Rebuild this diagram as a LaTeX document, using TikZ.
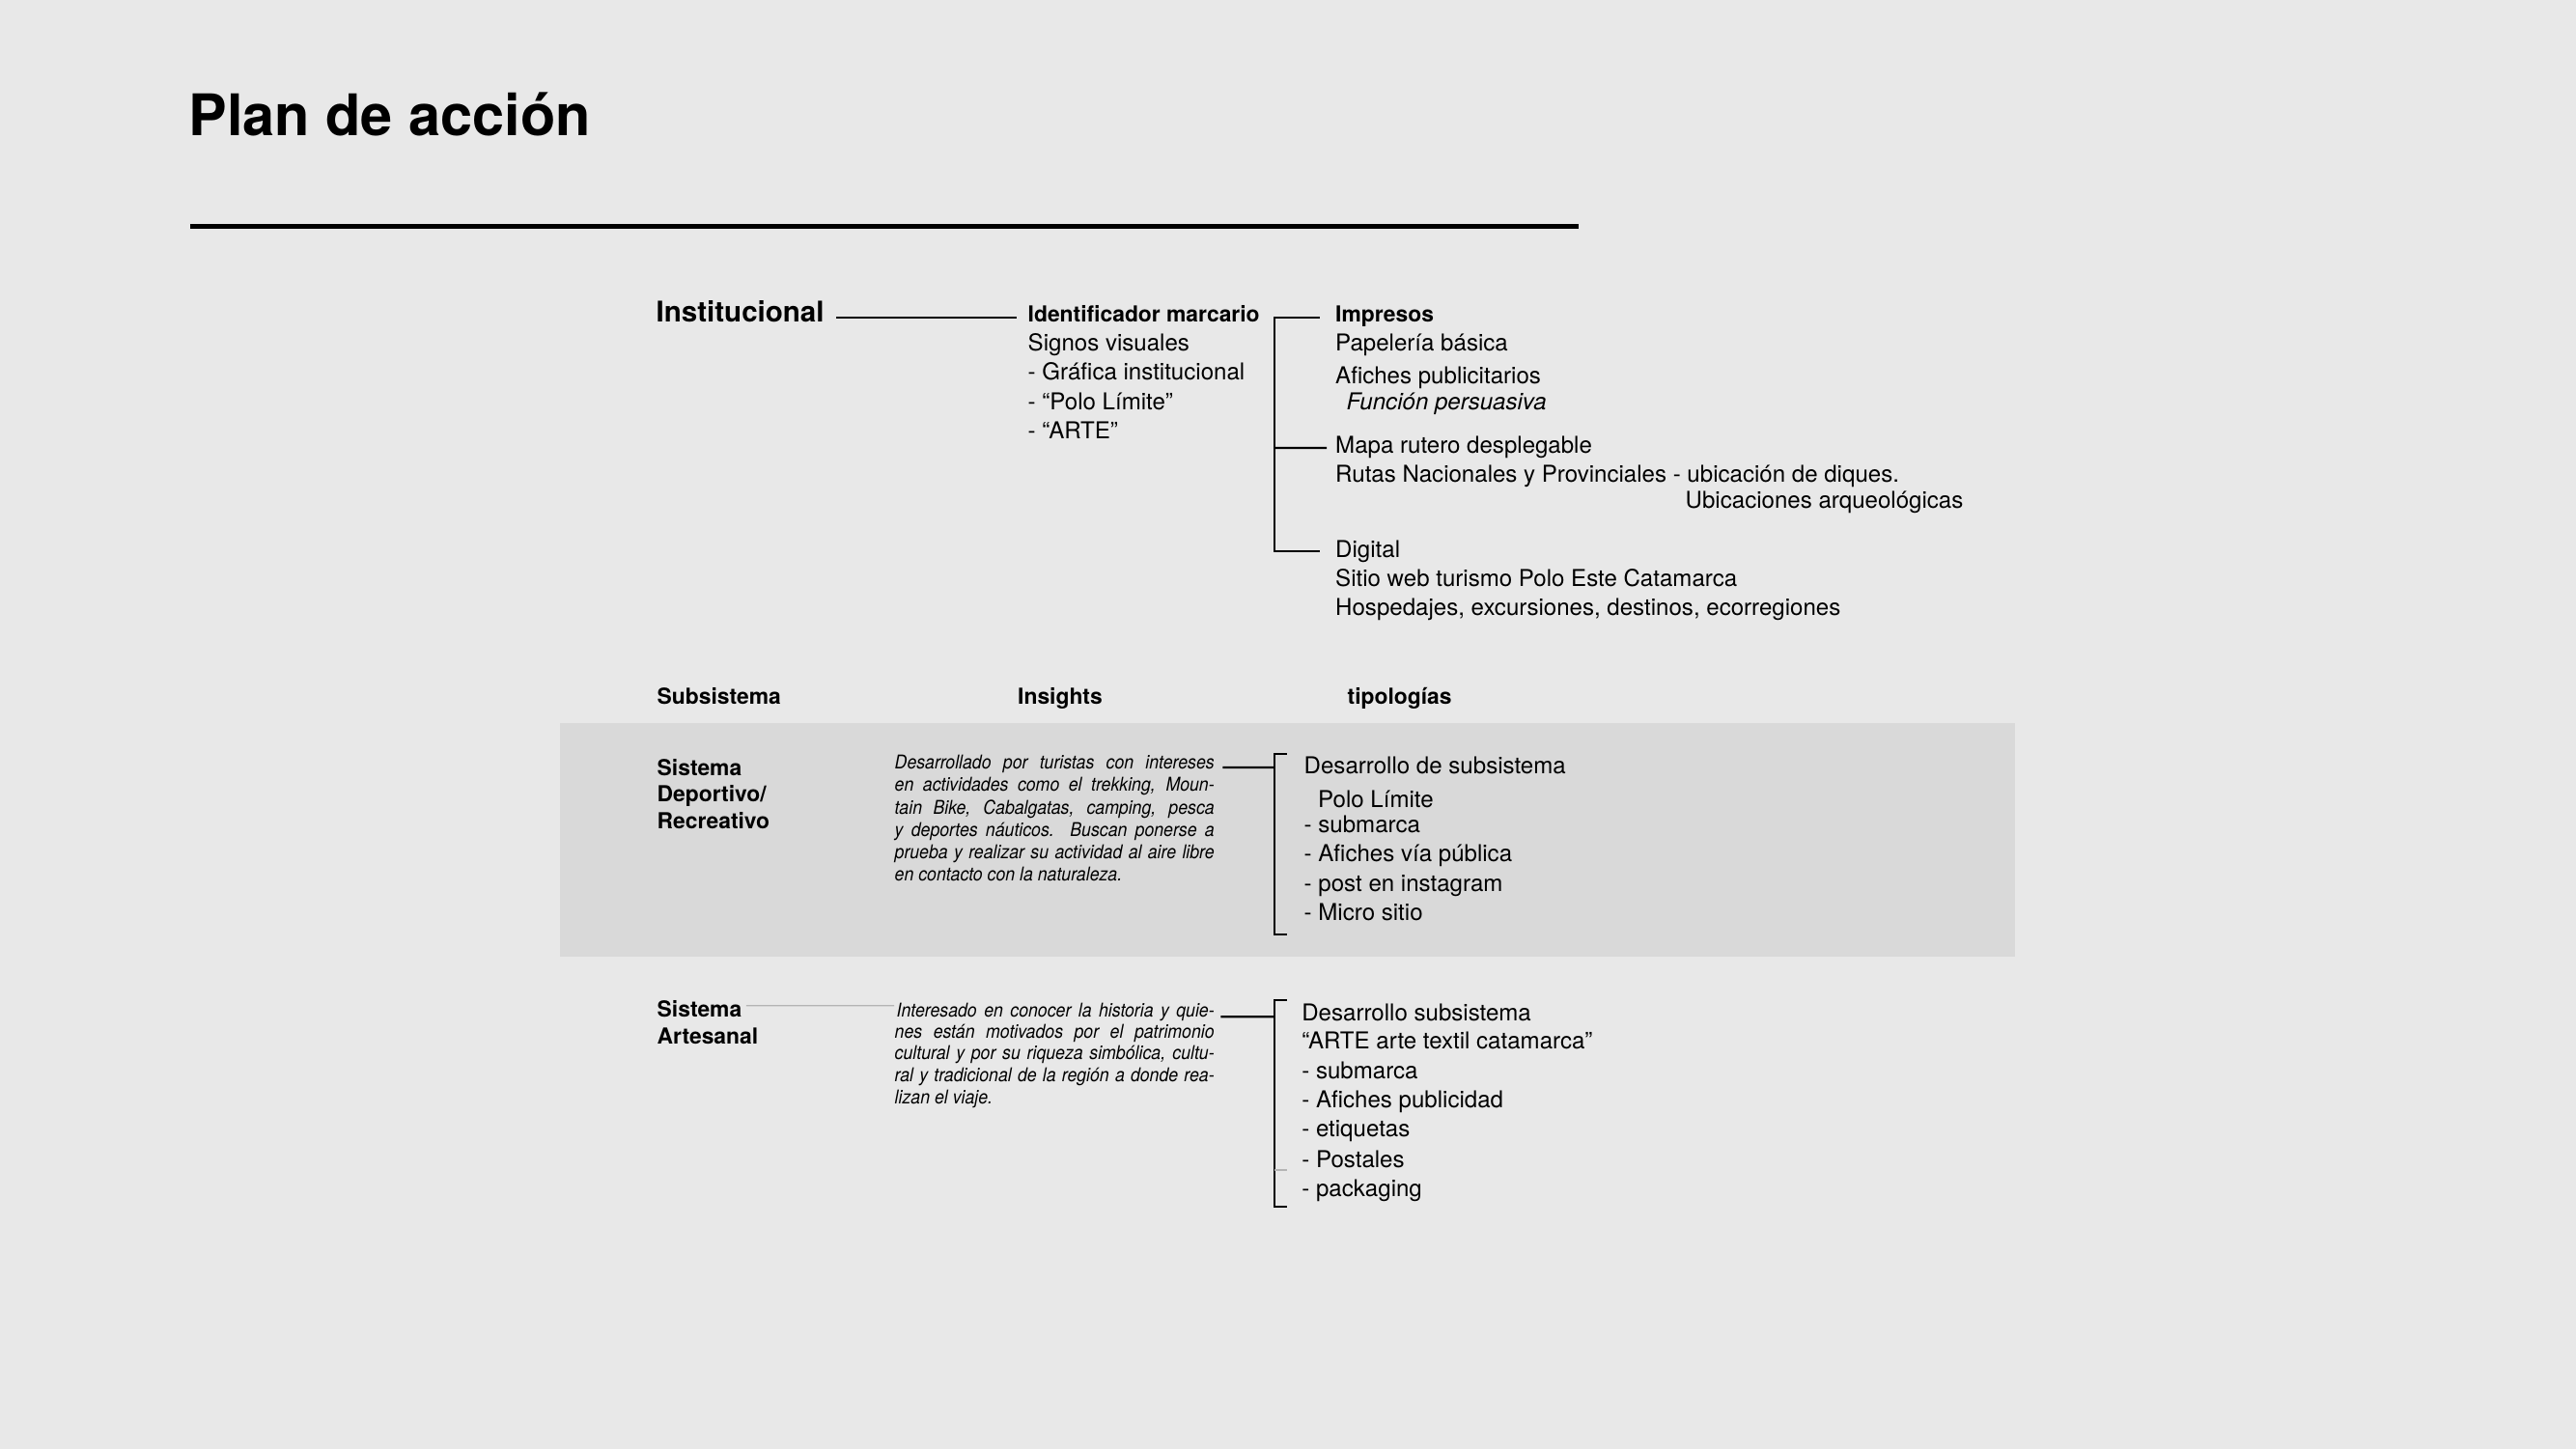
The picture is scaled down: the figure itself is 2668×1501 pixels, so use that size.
\documentclass[tikz,border=0pt]{standalone}
\usepackage{fontspec}
\setmainfont{TeX Gyre Heros}
\newfontfamily\insfont[FakeStretch=0.9]{TeX Gyre Heros}
\usetikzlibrary{positioning}

\definecolor{paper}{HTML}{E8E8E8}
\definecolor{band}{HTML}{D9D9D9}
\definecolor{faint}{HTML}{B4B4B4}

\newcommand\insline[2][3.31cm]{\makebox[#1][s]{#2}}

\tikzset{
  body/.style={anchor=base west, inner sep=0pt, font=\fontsize{6.85}{8}\selectfont},
  head/.style={body, font=\fontsize{6.5}{8}\selectfont\bfseries},
  insight/.style={body, font=\insfont\fontsize{5.6}{6.6}\selectfont\itshape},
  link/.style={line width=.6pt},
  hair/.style={line width=.35pt, draw=faint},
}

\begin{document}
\begin{tikzpicture}[x=.1mm,y=-.1mm]
\fill[paper] (0,0) rectangle (2668,1501);
\useasboundingbox (0,0) rectangle (2668,1501);
\node[body,font=\fontsize{16.9}{20}\selectfont\bfseries] (titulo) at (195,141) {Plan de acción};
\draw[line width=1.35pt] (197,234.5) -- (1635,234.5);

\node[body,font=\fontsize{8.4}{10}\selectfont\bfseries] (inst) at (679,333.5) {Institucional};
\node[head] (idm) at (1064,333.5) {Identificador marcario};
\node[body] (signos) at (1064,364) {Signos visuales};
\node[body] (grafica) at (1064,394) {- Gráfica institucional};
\node[body] (polo) at (1064,424.5) {- “Polo Límite”};
\node[body] (arte) at (1064,454.5) {- “ARTE”};
\draw[link] ([xshift=1.2mm,yshift=.42mm]inst.base east) -- ([xshift=-1.1mm,yshift=.42mm]idm.base west);

\node[head] (imp) at (1382.5,334) {Impresos};
\node[body] (papel) at (1382.5,364) {Papelería básica};
\node[body] (afpub) at (1382.5,398) {Afiches publicitarios};
\node[body,font=\fontsize{6.85}{8}\selectfont\itshape] (persu) at (1394,424.5) {Función persuasiva};
\node[body] (mapa) at (1382.5,469.5) {Mapa rutero desplegable};
\node[body] (rutas) at (1382.5,499.5) {Rutas Nacionales y Provinciales - ubicación de diques.};
\node[body] (arqueo) at (1745,526.5) {Ubicaciones arqueológicas};
\node[body] (digital) at (1382.5,577.2) {Digital};
\node[body] (web) at (1382.5,607.2) {Sitio web turismo Polo Este Catamarca};
\node[body] (hosp) at (1382.5,637.2) {Hospedajes, excursiones, destinos, ecorregiones};
\coordinate (spineA) at (1320,464);
\draw[link] ([xshift=-1.6mm,yshift=.47mm]imp.base west) -| (spineA) |- ([xshift=-1.6mm,yshift=.65mm]digital.base west);
\draw[link] (spineA) -- ([xshift=-.85mm,yshift=.55mm]mapa.base west);

\node[head] (subs) at (680,729.8) {Subsistema};
\node[head] (insights) at (1053.5,729.8) {Insights};
\node[head] (tipos) at (1395,729.8) {tipologías};

\fill[band] (580,749.3) rectangle (2087,990.7);
\node[head] (depA) at (680,803.2) {Sistema};
\node[head] (depB) at (680,830.5) {Deportivo/};
\node[head] (depC) at (680,858.2) {Recreativo};
\node[insight] (insA1) at (926,796.5) {\insline{Desarrollado por turistas con intereses}};
\node[insight] (insA2) at (926,819.8) {\insline{en actividades como el trekking, Moun-}};
\node[insight] (insA3) at (926,843.2) {\insline{tain Bike, Cabalgatas, camping, pesca}};
\node[insight] (insA4) at (926,866.2) {\insline{y deportes náuticos. Buscan ponerse a}};
\node[insight] (insA5) at (926,889.8) {\insline{prueba y realizar su actividad al aire libre}};
\node[insight] (insA6) at (926,912.5) {en contacto con la naturaleza.};
\coordinate (spineB) at (1320,795);
\coordinate (topB) at (1332.7,780.7);
\coordinate (botB) at (1332.7,968.3);
\draw[link] ([xshift=.8mm,yshift=.15mm]insA1.base east) -- (spineB);
\draw[link] (topB) -| (spineB) |- (botB);
\node[body] (desA) at (1350,801.5) {Desarrollo de subsistema};
\node[body] (poloA) at (1364.5,836.5) {Polo Límite};
\node[body] (subA) at (1350,862.2) {- submarca};
\node[body] (afA) at (1350,892.2) {- Afiches vía pública};
\node[body] (postA) at (1350,923.2) {- post en instagram};
\node[body] (microA) at (1350,953.2) {- Micro sitio};

\node[head] (artA) at (680,1053.2) {Sistema};
\node[head] (artB) at (680,1081.2) {Artesanal};
\node[insight] (insB1) at (928,1053.2) {\insline[3.29cm]{Interesado en conocer la historia y quie-}};
\node[insight] (insB2) at (926,1075.5) {\insline{nes están motivados por el patrimonio}};
\node[insight] (insB3) at (926,1097.8) {\insline{cultural y por su riqueza simbólica, cultu-}};
\node[insight] (insB4) at (926,1120.5) {\insline{ral y tradicional de la región a donde rea-}};
\node[insight] (insB5) at (926,1143.8) {lizan el viaje.};
\coordinate (hairB) at (926,1041.7);
\draw[hair] ([xshift=.4mm,yshift=1.15mm]artA.base east) -- (hairB);
\coordinate (spineC) at (1320,1053.3);
\coordinate (topC) at (1332.7,1036);
\coordinate (botC) at (1332.7,1250);
\coordinate (markC) at (1320,1212);
\draw[link] ([xshift=.6mm]insB1.base east) -- (spineC);
\draw[link] (topC) -| (spineC) |- (botC);
\draw[hair] (markC) -- ++(13,0);
\node[body] (desB) at (1347.6,1057.2) {Desarrollo subsistema};
\node[body] (arteB) at (1347.6,1086.5) {“ARTE arte textil catamarca”};
\node[body] (subB) at (1347.6,1117.8) {- submarca};
\node[body] (afB) at (1347.6,1147.8) {- Afiches publicidad};
\node[body] (etiB) at (1347.6,1177.2) {- etiquetas};
\node[body] (postB) at (1347.6,1209.8) {- Postales};
\node[body] (packB) at (1347.6,1239.2) {- packaging};
\end{tikzpicture}
\end{document}
